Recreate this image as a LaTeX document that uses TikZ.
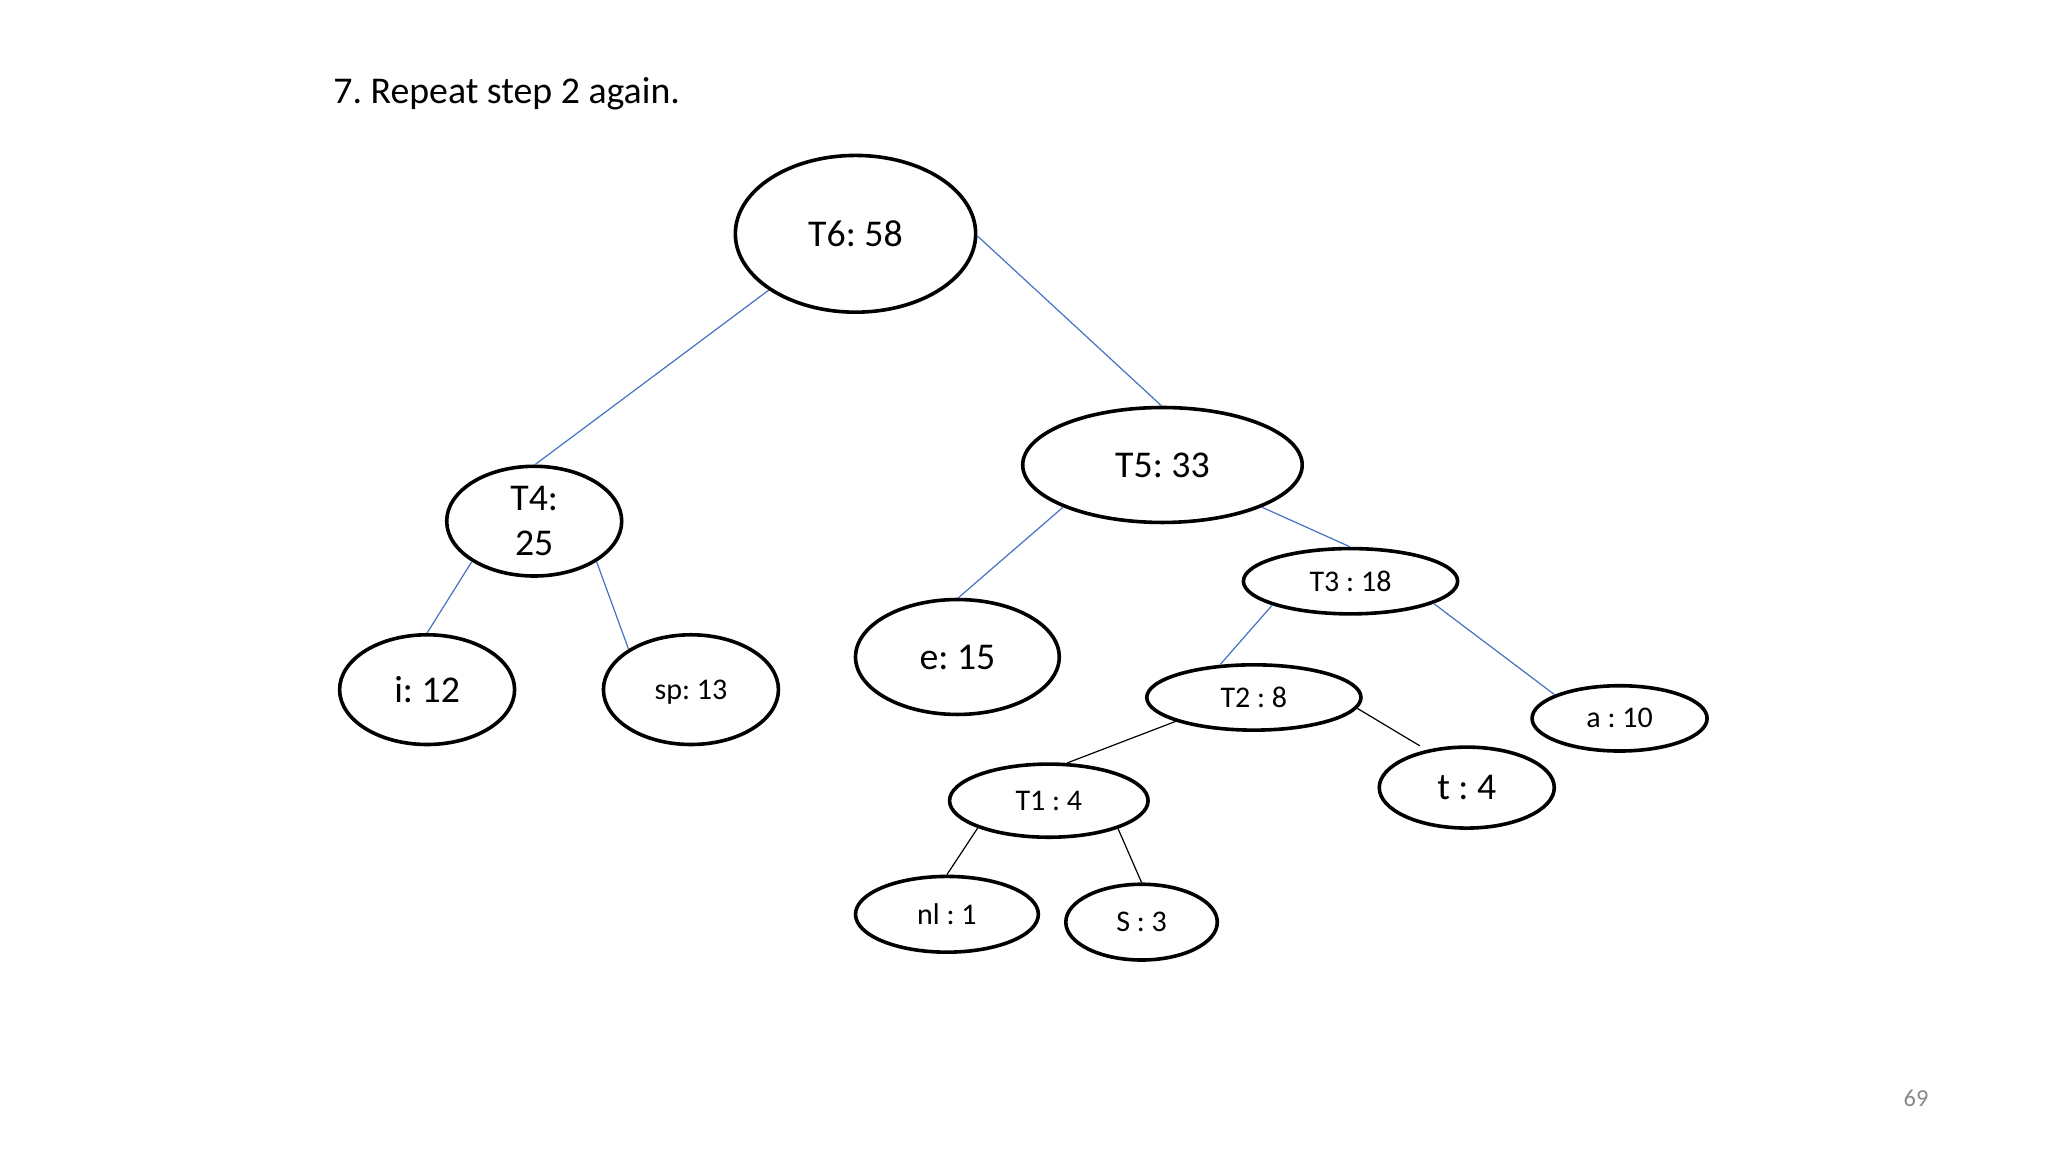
\documentclass[tikz,border=0pt]{standalone}
\usepackage{fontspec}
\setmainfont{Carlito}
\usetikzlibrary{shapes.geometric}
\definecolor{edgeblue}{RGB}{68,114,196}
\definecolor{pagegray}{RGB}{137,137,137}
\frenchspacing
\begin{document}
\frenchspacing
\begin{tikzpicture}[x=0.6531pt,y=-0.6531pt,
  ell/.style n args={2}{ellipse,draw=black,line width=1.8pt,inner sep=0pt,
    minimum width={#1*0.6531pt},minimum height={#2*0.6531pt}},
  big/.style={font=\fontsize{18.9}{22.7}\selectfont},
  small/.style={font=\fontsize{15}{18}\selectfont},
  blueedge/.style={draw=edgeblue,line width=0.6pt},
  blackedge/.style={draw=black,line width=0.6pt}]
\useasboundingbox[fill=white] (0,0) rectangle (1568,882);

\node[anchor=base west,big,inner sep=0pt] (title) at (255,79) {7. Repeat step 2 again.};
\node[font=\fontsize{12.2}{14}\selectfont,text=pagegray] (pg) at (1467,841) {69};

\node[ell={184}{120},big] (T6) at (655,179) {T6: 58};
\node[ell={214}{88},big] (T5) at (890,356) {T5: 33};
\node[ell={134}{84},big,align=center] (T4) at (409,399) {T4:\\25};
\node[ell={134}{84},big] (i) at (327,528) {i: 12};
\node[ell={134}{84},small,text depth=0pt] (sp) at (529,528) {sp: 13};
\node[ell={156}{88},big] (e) at (733,503) {e: 15};
\node[ell={164}{50},small] (T3) at (1034,445) {T3 : 18};
\node[ell={164}{50},small] (T2) at (960,534) {T2 : 8};
\node[ell={134}{50},small] (a) at (1240,550) {a : 10};
\node[ell={134}{62},big] (t) at (1123,603) {t : 4};
\node[ell={152}{56},small] (T1) at (803,613) {T1 : 4};
\node[ell={140}{58},small] (nl) at (725,700) {nl : 1};
\node[ell={116}{58},small] (S) at (874,706) {S : 3};
\coordinate (tEnd) at (1087,571);

\draw[blueedge] (T6.213) -- (T4.89);
\draw[blueedge] (T6.359) -- (T5.91);
\draw[blueedge] (T4.213) -- (i.90);
\draw[blueedge] (T4.327) -- (sp.147);
\draw[blueedge] (T5.203) -- (e.89);
\draw[blueedge] (T5.337) -- (T3.91);
\draw[blueedge] (T3.197) -- (T2.136);
\draw[blueedge] (T3.345) -- (a.160);
\draw[blackedge] (T2.197) -- (T1.64);
\draw[blackedge] (T2.354) -- (tEnd);
\draw[blackedge] (T1.201) -- (nl.90);
\draw[blackedge] (T1.338) -- (S.90);
\end{tikzpicture}
\end{document}
